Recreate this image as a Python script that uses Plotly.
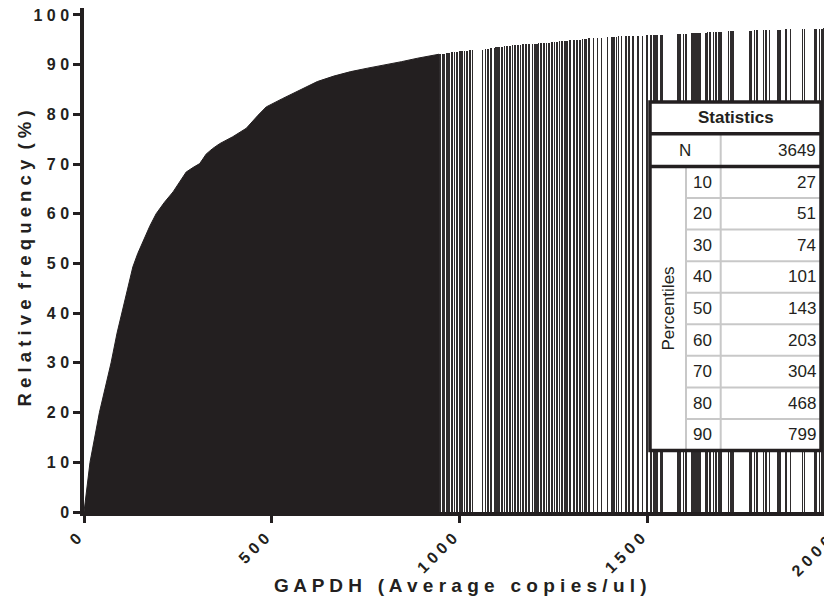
import plotly.graph_objects as go

# ---- data ----
# cumulative relative frequency envelope of the dense part (GAPDH copies/ul, %)
env_x = [0, 16, 41, 72, 88, 104, 117, 130, 143, 157, 175, 192, 214, 237, 255, 272, 290, 308, 318, 325, 342,
         361, 396, 432, 463, 485, 529, 556, 590, 621, 665, 710, 755, 799, 845, 888, 945]
env_y = [0, 10, 20, 30, 36, 41, 45.5, 49.3, 52, 54.5, 57.5, 60, 62.3, 64.4, 66.4, 68.4, 69.3, 70.1, 71.2, 72.0, 73.1,
         74.1, 75.5, 77.2, 79.8, 81.5, 83.2, 84.2, 85.5, 86.6, 87.7, 88.6, 89.3, 89.9, 90.6, 91.3, 92.1]

# individual bars in the sparse upper range
sparse_x = [947, 955, 960, 966, 972, 979, 986, 993, 1001, 1006, 1013, 1020, 1027, 1034,
            1061, 1069, 1076, 1083, 1093, 1097, 1102, 1106, 1112, 1119, 1126, 1134, 1141, 1148, 1155, 1162, 1169,
            1176, 1184,
            1194, 1200, 1205, 1210, 1217, 1224, 1231, 1238, 1245, 1252, 1259, 1266, 1273, 1280, 1285, 1293, 1304,
            1313, 1320, 1327, 1334, 1338, 1344, 1356, 1367, 1378, 1393, 1405, 1411, 1417, 1423, 1431, 1442, 1450,
            1462, 1474, 1487, 1498, 1509, 1517, 1522, 1527, 1534, 1539,
            1581, 1586, 1596, 1602, 1618, 1623, 1629, 1634, 1639, 1655, 1660, 1666, 1676, 1682,
            1690, 1695, 1716, 1722, 1727, 1772, 1777, 1785, 1791, 1809, 1815, 1825, 1847, 1852, 1868, 1881, 1913,
            1918, 1945, 1950, 1958, 1964, 1969, 1983, 1988]
sparse_y = [92.1, 92.2, 92.2, 92.3, 92.4, 92.5, 92.5, 92.6, 92.7, 92.7, 92.8, 92.8, 92.9, 92.9,
            93.0, 93.1, 93.2, 93.3, 93.4, 93.5, 93.5, 93.5, 93.6, 93.7, 93.7, 93.8, 93.9, 93.9, 94.0, 94.0, 94.1,
            94.1, 94.1,
            94.2, 94.2, 94.2, 94.3, 94.3, 94.4, 94.4, 94.4, 94.5, 94.5, 94.6, 94.7, 94.7, 94.8, 94.8, 94.9, 94.9,
            95.0, 95.0, 95.1, 95.1, 95.2, 95.3, 95.3, 95.4, 95.4, 95.5, 95.5, 95.6, 95.6, 95.7, 95.7, 95.7, 95.8,
            95.8, 95.8, 95.8, 95.9, 95.9, 95.9, 95.9, 96.0, 96.0, 96.0,
            96.1, 96.1, 96.2, 96.2, 96.3, 96.3, 96.3, 96.3, 96.4, 96.4, 96.5, 96.5, 96.5, 96.6,
            96.6, 96.6, 96.7, 96.7, 96.7, 96.8, 96.8, 96.9, 96.9, 96.9, 97.0, 97.0, 97.0, 97.0, 97.1, 97.1, 97.1,
            97.2, 97.2, 97.2, 97.2, 97.2, 97.3, 97.3, 97.3]

y_ticks = [0, 10, 20, 30, 40, 50, 60, 70, 80, 90, 100]
x_ticks = [0, 500, 1000, 1500, 2000]

table_title = "Statistics"
n_label = "N"
n_value = 3649
pct_label = "Percentiles"
pct_levels = [10, 20, 30, 40, 50, 60, 70, 80, 90]
pct_values = [27, 51, 74, 101, 143, 203, 304, 468, 799]

x_title = "GAPDH (Average copies/ul)"
y_title = "Relative frequency (%)"

# ---- styling ----
INK = "#231f20"
BAR = "#2f2c2d"
FONT = "Liberation Sans, Arial, sans-serif"
OFF = 8                      # page body margin of the browser
W, H = 832 - OFF, 599 - OFF
ML, MR, MT, MB = 84 - OFF, 0, 8 - OFF, 87
PW, PH = W - ML - MR, H - MT - MB
X_MAX = 1991


def spaced(s, gap=" ", word_gap=2):
    words = s.split(" ")
    return (gap * word_gap).join(gap.join(list(w)) for w in words)


def px(xr):
    # screen x (reference pixels) -> paper fraction
    return (xr - OFF - ML) / PW


def py(yr):
    # screen y (reference pixels) -> paper fraction
    return (MT + PH - (yr - OFF)) / PH


fig = go.Figure()
fig.add_trace(go.Scatter(x=env_x, y=env_y, mode="lines", fill="tozeroy",
                         line=dict(color=INK, width=1), fillcolor=INK,
                         hoverinfo="skip", showlegend=False))
fig.add_trace(go.Bar(x=sparse_x, y=sparse_y, width=1.6,
                     marker=dict(color=BAR, line=dict(width=0)),
                     hoverinfo="skip", showlegend=False))

tick_font = dict(family=FONT, size=16, color=INK, weight="bold")
shown_x = [v for v in x_ticks if v <= X_MAX]
fig.update_xaxes(range=[0, X_MAX], showgrid=False, zeroline=False, showline=True,
                 linewidth=3.5, linecolor=INK, ticks="outside", ticklen=7, tickwidth=3,
                 tickcolor=INK, tickvals=shown_x, ticktext=[spaced(str(v)) for v in shown_x],
                 tickangle=-45, tickfont=tick_font, ticklabelshift=-7, automargin=False)
fig.update_yaxes(range=[0, 101.4], showgrid=False, zeroline=False, showline=True,
                 linewidth=3.5, linecolor=INK, ticks="outside", ticklen=7, tickwidth=3,
                 tickcolor=INK, tickvals=y_ticks, ticktext=[spaced(str(v)) for v in y_ticks],
                 tickfont=tick_font, ticklabelstandoff=1, ticklabeloverflow="allow",
                 automargin=False)

annotations = []
# cut-off last x tick label
for v in x_ticks:
    if v > X_MAX:
        xr = OFF + ML + PW * v / X_MAX
        annotations.append(dict(x=px(xr + 2), y=py(530), xref="paper", yref="paper",
                                text=spaced(str(v)), textangle=-45, showarrow=False,
                                xanchor="right", yanchor="top", font=tick_font))

annotations.append(dict(x=px(460), y=py(585), xref="paper", yref="paper", text=spaced(x_title, word_gap=3),
                        showarrow=False, xanchor="center", yanchor="middle",
                        font=dict(family=FONT, size=19, color=INK, weight="bold")))
annotations.append(dict(x=px(23.5), y=py(259), xref="paper", yref="paper", text=spaced(y_title),
                        textangle=-90, showarrow=False, xanchor="center", yanchor="middle",
                        font=dict(family=FONT, size=18.5, color=INK, weight="bold")))

# ---- statistics table ----
TL, TR, TT, TB = 650, 821, 102, 450.5
R1, R2 = 133.7, 166.5
C1, C2 = 686, 720.7
row_h = (TB - R2) / len(pct_levels)
GRAY = "#c8c8c8"
shapes = [dict(type="rect", xref="paper", yref="paper", x0=px(TL), x1=px(TR), y0=py(TB), y1=py(TT),
               fillcolor="white", line=dict(width=0), layer="above")]
shapes.append(dict(type="line", xref="paper", yref="paper", x0=px(C2), x1=px(C2), y0=py(R1), y1=py(TB),
                   line=dict(color=GRAY, width=2)))
shapes.append(dict(type="line", xref="paper", yref="paper", x0=px(C1), x1=px(C1), y0=py(R2), y1=py(TB),
                   line=dict(color=GRAY, width=2)))
for k in range(1, len(pct_levels)):
    yy = R2 + k * row_h
    shapes.append(dict(type="line", xref="paper", yref="paper", x0=px(C1), x1=px(TR), y0=py(yy), y1=py(yy),
                       line=dict(color=GRAY, width=2)))
for yy in (R1, R2):
    shapes.append(dict(type="line", xref="paper", yref="paper", x0=px(TL), x1=px(TR), y0=py(yy), y1=py(yy),
                       line=dict(color=INK, width=3.5)))
shapes.append(dict(type="rect", xref="paper", yref="paper", x0=px(TL), x1=px(TR), y0=py(TB), y1=py(TT),
                   line=dict(color=INK, width=3.5), layer="above"))

cell_font = dict(family=FONT, size=17, color=INK)
annotations.append(dict(x=px((TL + TR) / 2), y=py((TT + R1) / 2), xref="paper", yref="paper",
                        text=table_title, showarrow=False, xanchor="center", yanchor="middle",
                        font=dict(family=FONT, size=17, color=INK, weight="bold")))
annotations.append(dict(x=px((TL + C2) / 2), y=py((R1 + R2) / 2), xref="paper", yref="paper",
                        text=n_label, showarrow=False, xanchor="center", yanchor="middle", font=cell_font))
annotations.append(dict(x=px(TR - 3), y=py((R1 + R2) / 2), xref="paper", yref="paper",
                        text=str(n_value), showarrow=False, xanchor="right", yanchor="middle", font=cell_font))
annotations.append(dict(x=px((TL + C1) / 2), y=py((R2 + TB) / 2), xref="paper", yref="paper",
                        text=pct_label, textangle=-90, showarrow=False, xanchor="center", yanchor="middle",
                        font=cell_font))
for k, (lvl, val) in enumerate(zip(pct_levels, pct_values)):
    yc = R2 + (k + 0.5) * row_h
    annotations.append(dict(x=px(C1 + 5), y=py(yc), xref="paper", yref="paper", text=str(lvl),
                            showarrow=False, xanchor="left", yanchor="middle", font=cell_font))
    annotations.append(dict(x=px(TR - 3), y=py(yc), xref="paper", yref="paper", text=str(val),
                            showarrow=False, xanchor="right", yanchor="middle", font=cell_font))

fig.update_layout(width=W, height=H, margin=dict(l=ML, r=MR, t=MT, b=MB, pad=0, autoexpand=False),
                  plot_bgcolor="white", paper_bgcolor="white", showlegend=False,
                  shapes=shapes, annotations=annotations, bargap=0)

fig.write_html("out.html")
